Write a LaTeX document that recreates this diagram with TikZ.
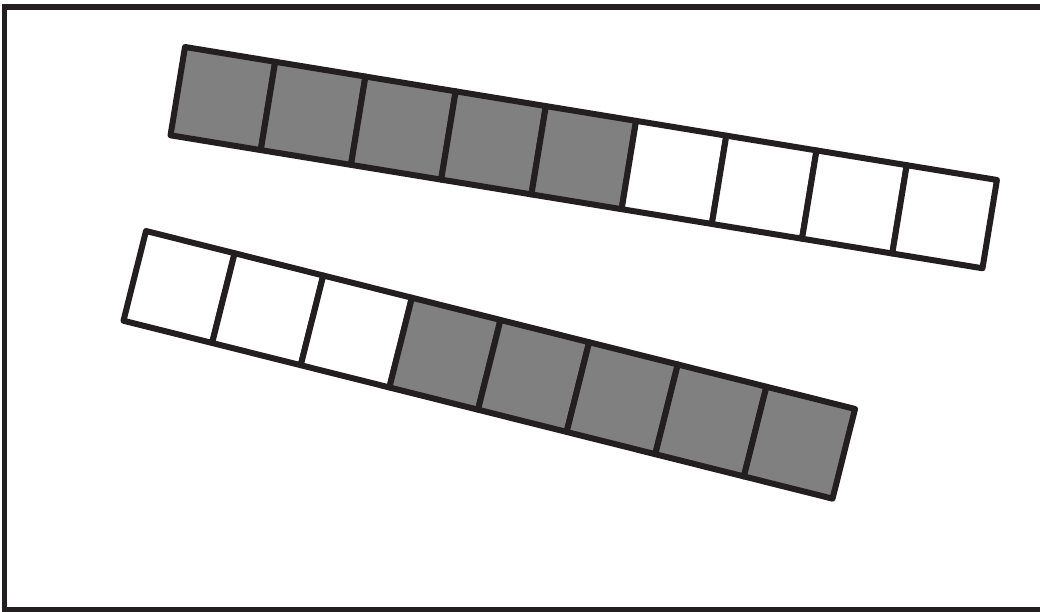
\documentclass[tikz,border=0pt]{standalone}
\definecolor{ink}{RGB}{35,31,32}
\definecolor{cellgray}{RGB}{128,128,128}
\tikzset{
  cellline/.style={draw=ink, line width=6pt, line join=round},
  filled/.style={cellline, fill=cellgray},
  empty/.style={cellline, fill=white},
  frameline/.style={draw=ink, line width=5.5pt}
}
\begin{document}
\begin{tikzpicture}[x=1pt,y=1pt]
\useasboundingbox (0,0) rectangle (1040,611);
% frame (open on the right, as cut by the page edge)
\draw[frameline] (1050,604) -- (4.5,604) -- (4.5,1) -- (1050,1);
% top strip: 5 gray then 4 white
\begin{scope}[shift={(185,564)}, rotate=-9.30]
  \foreach \i in {0,...,8}{
    \pgfmathsetmacro{\a}{\i*91.42}
    \pgfmathsetmacro{\b}{(\i+1)*91.42}
    \ifnum\i<5
      \draw[filled] (\a,0) rectangle (\b,-89.5);
    \else
      \draw[empty] (\a,0) rectangle (\b,-89.5);
    \fi
  }
\end{scope}
% bottom strip: 3 white then 5 gray
\begin{scope}[shift={(146,380)}, rotate=-14.09]
  \foreach \i in {0,...,7}{
    \pgfmathsetmacro{\a}{\i*91.38}
    \pgfmathsetmacro{\b}{(\i+1)*91.38}
    \ifnum\i<3
      \draw[empty] (\a,0) rectangle (\b,-92.5);
    \else
      \draw[filled] (\a,0) rectangle (\b,-92.5);
    \fi
  }
\end{scope}
\end{tikzpicture}
\end{document}
